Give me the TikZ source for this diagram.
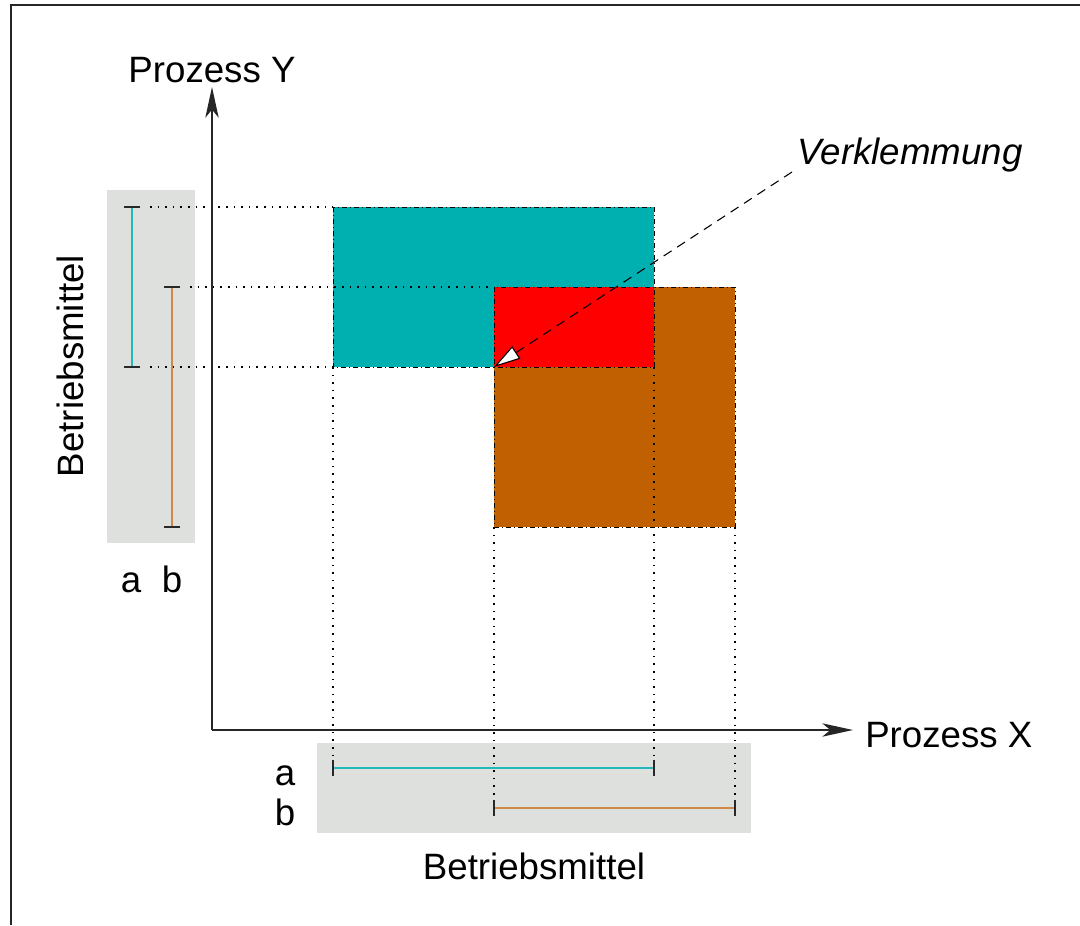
\documentclass[tikz,border=0pt]{standalone}
\usepackage{fontspec}
\setmainfont{Liberation Sans}
\usetikzlibrary{arrows.meta}
\definecolor{boxgray}{RGB}{221,224,221}
\definecolor{rectcyan}{RGB}{0,176,176}
\definecolor{rectbrown}{RGB}{192,96,0}
\definecolor{barcyan}{RGB}{32,184,184}
\definecolor{barorange}{RGB}{208,136,72}
\definecolor{tickgray}{RGB}{40,40,40}
\tikzset{
  lbl/.style={inner sep=0pt, font=\fontsize{27.5}{33}\selectfont},
  axis/.style={line width=1.5pt, draw=black!85, -{Stealth[length=23pt,width=10pt,inset=6pt]}},
  region/.style={draw=black, line width=0.75pt, dash pattern=on 4pt off 2pt on 1pt off 2pt},
  guide/.style={draw=black, line width=0.9pt, dash pattern=on 1.2pt off 4.5pt},
  bar/.style={line width=1.2pt},
  tick/.style={draw=tickgray, line width=1.2pt},
  shade/.style={fill=boxgray, draw=none}
}
\begin{document}
\begin{tikzpicture}[x=0.75pt,y=-0.75pt]
\useasboundingbox (0,0) rectangle (1080,925);
% frame
\draw[line width=1.2pt, draw=black!85] (11,925) -- (11,5) -- (1080,5);
% shaded boxes
\fill[shade] (107,190) rectangle (195,543);
\fill[shade] (317,743) rectangle (751,833);
% regions
\path[region, fill=rectcyan] (333,207) rectangle (654,367);
\path[region, fill=rectbrown] (494,287) rectangle (735,527);
\path[region, fill=red] (494,287) rectangle (654,367);
% coordinates
\coordinate (ya1) at (132,207); \coordinate (ya2) at (132,367);
\coordinate (yb1) at (172,287); \coordinate (yb2) at (172,527);
\coordinate (xa1) at (333,768); \coordinate (xa2) at (654,768);
\coordinate (xb1) at (494,808); \coordinate (xb2) at (735,808);
\coordinate (cTL) at (333,207); \coordinate (cBL) at (333,367); \coordinate (cBR) at (654,367);
\coordinate (rTL) at (494,287); \coordinate (rBL) at (494,527); \coordinate (rBR) at (735,527);
\coordinate (dead) at (494,367);
% guide lines
\draw[guide] ([xshift=13.5pt]ya1) -- (cTL);
\draw[guide] ([xshift=13.5pt]yb1) -- (rTL);
\draw[guide] ([xshift=13.5pt]ya2) -- (cBL);
\draw[guide] (cBL) -- ([yshift=6pt]xa1);
\draw[guide] (cBR) -- ([yshift=6pt]xa2);
\draw[guide] (rBL) -- ([yshift=6pt]xb1);
\draw[guide] (rBR) -- ([yshift=6pt]xb2);
% axes
\coordinate (O) at (212,730);
\coordinate (ytip) at (212,87);
\coordinate (xtip) at (853,730);
\draw[axis] (O) -- (ytip);
\draw[axis] (O) -- (xtip);
\node[lbl] (py) at (212,70) {Prozess Y};
\node[lbl, anchor=west] (px) at (865,735) {Prozess X};
% range bars
\draw[bar, barcyan] (ya1) -- (ya2);
\draw[bar, barorange] (yb1) -- (yb2);
\draw[bar, barcyan] (xa1) -- (xa2);
\draw[bar, barorange] (xb1) -- (xb2);
\foreach \c in {ya1,ya2,yb1,yb2} \draw[tick] ([xshift=-6pt]\c) -- ([xshift=6pt]\c);
\foreach \c in {xa1,xa2,xb1,xb2} \draw[tick] ([yshift=-6pt]\c) -- ([yshift=6pt]\c);
% labels
\node[lbl, anchor=base] (la) at (131,592) {a};
\node[lbl, anchor=base] (lb) at (172,592) {b};
\node[lbl, anchor=base] (ba) at (285,785) {a};
\node[lbl, anchor=base] (bb) at (285,825) {b};
\node[lbl] (bmx) at (534,866) {Betriebsmittel};
\node[lbl, rotate=90] (bmy) at (70,366) {Betriebsmittel};
\node[lbl, font=\fontsize{27.5}{33}\selectfont\itshape] (vk) at (910,155) {Verklemmung};
% deadlock arrow
\coordinate (vkstart) at (792,172);
\draw[line width=0.8pt, dash pattern=on 7pt off 5pt, -{Triangle[length=20pt,width=11pt,fill=white,line width=0.8pt]}] (vkstart) -- (dead);
\end{tikzpicture}
\end{document}
